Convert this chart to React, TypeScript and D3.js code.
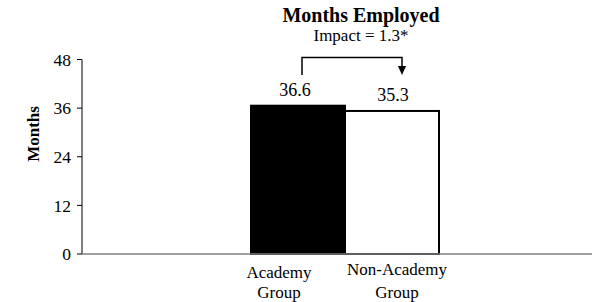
import React from 'react'
import * as d3 from 'd3'

const groups = ['Academy Group', 'Non-Academy Group']
const groupLines = [
  ['Academy', 'Group'],
  ['Non-Academy', 'Group'],
]
const values = [36.6, 35.3]
const valueLabels = ['36.6', '35.3']
const yTicks = [0, 12, 24, 36, 48]
const title = 'Months Employed'
const impactLabel = 'Impact = 1.3*'
const yLabel = 'Months'

const W = 593
const H = 302
const font = '"Liberation Serif", "Times New Roman", serif'

export default function App() {
  const axisX = 82
  const axisEnd = 592
  const y = d3.scaleLinear().domain([0, 48]).range([254, 59.5])
  const x = d3.scaleBand<string>().domain(groups).range([251, 439]).padding(0)
  const fills = ['#000', '#fff']

  const cx0 = x(groups[0])! + x.bandwidth() / 2
  const cx1 = x(groups[1])! + x.bandwidth() / 2
  const bracketTop = 57.5
  const bracketLeftBottom = 75
  const arrowTip = 75

  return (
    <svg width={W} height={H} style={{ position: 'absolute', left: 0, top: 0, background: '#fff' }} fontFamily={font}>
      <text x={361} y={22} textAnchor="middle" fontSize={20} fontWeight="bold">
        {title}
      </text>
      <text x={361} y={41} textAnchor="middle" fontSize={17}>
        {impactLabel}
      </text>

      {/* y axis */}
      <line x1={axisX} x2={axisX} y1={y(48)} y2={y(0)} stroke="#000" strokeWidth={1} />
      {yTicks.map((t) => (
        <g key={t}>
          <line x1={axisX - 5} x2={axisX} y1={y(t)} y2={y(t)} stroke="#000" />
          <text x={71} y={y(t)} dy="0.35em" textAnchor="end" fontSize={17.5}>
            {t}
          </text>
        </g>
      ))}
      <text
        transform={`translate(39,134) rotate(-90)`}
        textAnchor="middle"
        fontSize={17}
        fontWeight="bold"
      >
        {yLabel}
      </text>

      {/* bars */}
      {groups.map((g, i) => (
        <rect
          key={g}
          x={x(g)!}
          y={y(values[i])}
          width={x.bandwidth()}
          height={y(0) - y(values[i])}
          fill={fills[i]}
          stroke="#000"
          strokeWidth={2}
        />
      ))}
      {groups.map((g, i) => (
        <text
          key={g + 'v'}
          x={x(g)! + x.bandwidth() / 2 - 3 + i * 4}
          y={y(values[i]) - 10}
          textAnchor="middle"
          fontSize={18}
        >
          {valueLabels[i]}
        </text>
      ))}

      {/* x axis */}
      <line x1={axisX} x2={axisEnd} y1={y(0)} y2={y(0)} stroke="#7f7f7f" strokeWidth={1.5} />
      {groups.map((g, i) =>
        groupLines[i].map((ln, j) => (
          <text
            key={g + j}
            x={x(g)! + x.bandwidth() / 2 + (i === 0 ? -19 : 5)}
            y={(i === 0 ? 278 : 275) + j * (i === 0 ? 20 : 23)}
            textAnchor="middle"
            fontSize={17}
          >
            {ln}
          </text>
        ))
      )}

      {/* impact bracket */}
      <path
        d={`M${cx0 + 4},${bracketLeftBottom} V${bracketTop} H${cx1 + 10} V${arrowTip - 8}`}
        fill="none"
        stroke="#000"
        strokeWidth={1.5}
      />
      <path
        d={`M${cx1 + 10 - 4},${arrowTip - 9} L${cx1 + 10 + 4},${arrowTip - 9} L${cx1 + 10},${arrowTip} Z`}
        fill="#000"
      />
    </svg>
  )
}
